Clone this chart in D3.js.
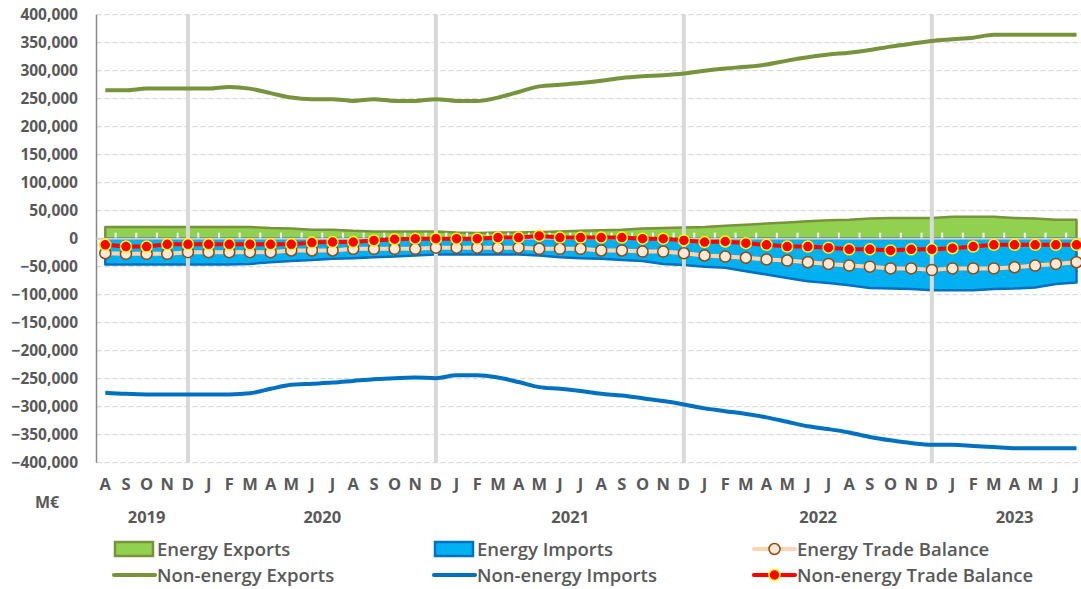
<!DOCTYPE html>
<html><head><meta charset="utf-8">
<script src="https://cdn.jsdelivr.net/npm/d3@7"></script>
<style>
body{margin:0;background:#fff;}
svg{display:block;font-family:"Open Sans",sans-serif;}
</style></head>
<body><svg id="c" width="1081" height="589"></svg>
<script>
const months = ["A","S","O","N","D",
 "J","F","M","A","M","J","J","A","S","O","N","D",
 "J","F","M","A","M","J","J","A","S","O","N","D",
 "J","F","M","A","M","J","J","A","S","O","N","D",
 "J","F","M","A","M","J","J"];
const years = [{label:"2019",from:0,to:4},{label:"2020",from:5,to:16},{label:"2021",from:17,to:28},{label:"2022",from:29,to:40},{label:"2023",from:41,to:47}];
const yTicks = [400000,350000,300000,250000,200000,150000,100000,50000,0,-50000,-100000,-150000,-200000,-250000,-300000,-350000,-400000];

// values in thousands of M€
const energyExports = [21,21,21,21,21,21,21,21,19,18,16,16,14,13,13,13,13,11,10,11,11,12,13,14,15,16,18,19,20,21,23,25,27,29,31,33,34,36,37,37,37,39,39,39,37,36,34,34];
const energyImports = [-46,-46,-46,-46,-46,-46,-46,-45,-42,-40,-38,-36,-35,-33,-32,-30,-28,-28,-28,-28,-28,-30,-33,-35,-36,-38,-40,-45,-47,-50,-52,-58,-64,-70,-76,-79,-83,-88,-89,-90,-92,-92,-92,-90,-89,-87,-81,-78];
const energyBalance = [-26,-27,-27,-27,-24,-24,-24,-24,-24,-21,-21,-21,-18,-18,-18,-18,-16,-16,-16,-16,-16,-18,-18,-18,-21,-21,-23,-23,-26,-30,-32,-34,-37,-39,-42,-45,-48,-50,-53,-53,-56,-53,-53,-53,-51,-48,-45,-42];
const nonEnergyExports = [265,265,268,268,268,268,271,268,260,252,249,249,246,249,246,246,249,246,246,252,262,272,275,278,282,287,290,292,295,300,304,307,311,318,324,329,332,337,343,348,353,356,359,364,364,364,364,364];
const nonEnergyImports = [-275,-277,-278,-278,-278,-278,-278,-276,-268,-261,-259,-257,-254,-251,-249,-248,-249,-244,-244,-248,-256,-265,-268,-272,-277,-280,-285,-290,-296,-303,-308,-313,-319,-327,-335,-340,-346,-354,-360,-365,-368,-368,-370,-372,-374,-374,-374,-374];
const nonEnergyBalance = [-11,-14,-14,-10,-10,-10,-10,-10,-10,-10,-7,-6,-6,-3,-1,0,0,0,0,2,2,5,2,2,2,2,0,0,-3,-6,-5,-8,-11,-14,-14,-16,-19,-19,-21,-19,-19,-17,-14,-11,-11,-11,-11,-11];

const svg = d3.select("#c");
const idx = d3.range(months.length);
const x = d3.scalePoint().domain(idx).range([105.3, 1076.5]);
const step = x.step();
const y = d3.scaleLinear().domain([-400000, 400000]).range([462.7, 14.7]);
const plotL = 96.5, plotR = 1081;
const txt = "#595959";

// horizontal gridlines
svg.append("g").selectAll("line").data(yTicks.filter(d=>d!==0)).join("line")
  .attr("x1", plotL).attr("x2", plotR).attr("y1", d=>y(d)).attr("y2", d=>y(d))
  .attr("stroke", "#d9d9d9").attr("stroke-width", 1.3).attr("stroke-dasharray", "5,3");

// y axis labels
const yAxis = d3.axisLeft(y).tickValues(yTicks).tickFormat(d3.format(",")).tickSize(0).tickPadding(0);
const ya = svg.append("g").attr("transform", `translate(78,0)`).call(yAxis);
ya.select(".domain").remove();
ya.selectAll("text").attr("fill", txt).attr("font-size", "15.5px").attr("font-weight", "bold").attr("font-family", '"Open Sans",sans-serif');

// areas
const k = v => v*1000;
svg.append("path").datum(idx)
  .attr("d", d3.area().x(i=>x(i)).y0(y(0)).y1(i=>y(k(energyExports[i]))))
  .attr("fill", "#92d050").attr("stroke", "#77933c").attr("stroke-width", 2.5).attr("stroke-linejoin","round");
svg.append("path").datum(idx)
  .attr("d", d3.area().x(i=>x(i)).y0(y(0)).y1(i=>y(k(energyImports[i]))))
  .attr("fill", "#00b0f0").attr("stroke", "#0070c0").attr("stroke-width", 2.5).attr("stroke-linejoin","round");

// y axis line
svg.append("line").attr("x1", plotL).attr("x2", plotL).attr("y1", y(400000)).attr("y2", y(-400000))
  .attr("stroke", "#868686").attr("stroke-width", 1.5);

// zero axis line with white ticks
svg.append("line").attr("x1", plotL).attr("x2", plotR).attr("y1", y(0)).attr("y2", y(0))
  .attr("stroke", "#d0d0d0").attr("stroke-width", 2);
svg.append("g").selectAll("line").data(idx.slice(0, -1)).join("line")
  .attr("x1", i=>x(i)+step/2).attr("x2", i=>x(i)+step/2)
  .attr("y1", y(0)-1).attr("y2", y(0)-6).attr("stroke", "#fff").attr("stroke-width", 2);

// year-boundary vertical lines (at December)
svg.append("g").selectAll("line").data(idx.filter(i=>months[i]==="D")).join("line")
  .attr("x1", i=>x(i)).attr("x2", i=>x(i)).attr("y1", y(400000)).attr("y2", y(-400000))
  .attr("stroke", "#d9d9d9").attr("stroke-width", 4);

// lines
const line = arr => d3.line().x(i=>x(i)).y(i=>y(k(arr[i]))).curve(d3.curveMonotoneX)(idx);
svg.append("path").attr("d", line(nonEnergyExports)).attr("fill","none").attr("stroke","#77933c").attr("stroke-width",4).attr("stroke-linejoin","round");
svg.append("path").attr("d", line(nonEnergyImports)).attr("fill","none").attr("stroke","#0070c0").attr("stroke-width",4).attr("stroke-linejoin","round");
const lineS = arr => d3.line().x(i=>x(i)).y(i=>y(k(arr[i])))(idx);
svg.append("path").attr("d", lineS(energyBalance)).attr("fill","none").attr("stroke","#fcd5b5").attr("stroke-width",4).attr("stroke-linejoin","round");
svg.append("g").selectAll("circle").data(idx).join("circle")
  .attr("cx", i=>x(i)).attr("cy", i=>y(k(energyBalance[i]))).attr("r", 5.5)
  .attr("fill", "#fde9d9").attr("stroke", "#984807").attr("stroke-width", 1.5);
svg.append("path").attr("d", lineS(nonEnergyBalance)).attr("fill","none").attr("stroke","#ff0000").attr("stroke-width",4).attr("stroke-linejoin","round");
svg.append("g").selectAll("circle").data(idx).join("circle")
  .attr("cx", i=>x(i)).attr("cy", i=>y(k(nonEnergyBalance[i]))).attr("r", 5.5)
  .attr("fill", "#ff0000").attr("stroke", "#ffff00").attr("stroke-width", 1.5);

// month labels
svg.append("g").selectAll("text").data(idx).join("text")
  .attr("x", i=>x(i)).attr("y", 490).attr("text-anchor","middle")
  .attr("fill", txt).attr("font-size","16.5px").attr("font-weight","bold").text(i=>months[i]);
// year labels
svg.append("g").selectAll("text").data(years).join("text")
  .attr("x", d=>(x(d.from)+x(d.to))/2).attr("y", 523).attr("text-anchor","middle")
  .attr("fill", txt).attr("font-size","16.5px").attr("font-weight","bold").text(d=>d.label);
svg.append("text").attr("x", 47).attr("y", 508).attr("text-anchor","middle")
  .attr("fill", txt).attr("font-size","16px").attr("font-weight","bold").text("M€");

// legend
const legend = [
  {name:"Energy Exports", type:"area", fill:"#92d050", stroke:"#77933c", col:0, row:0},
  {name:"Energy Imports", type:"area", fill:"#00b0f0", stroke:"#0070c0", col:1, row:0},
  {name:"Energy Trade Balance", type:"marker", line:"#fcd5b5", fill:"#fde9d9", stroke:"#984807", col:2, row:0},
  {name:"Non-energy Exports", type:"line", line:"#77933c", col:0, row:1},
  {name:"Non-energy Imports", type:"line", line:"#0070c0", col:1, row:1},
  {name:"Non-energy Trade Balance", type:"marker", line:"#ff0000", fill:"#ff0000", stroke:"#ffff00", col:2, row:1}
];
const colX = [114, 434, 754], rowY = [549, 575];
const lg = svg.append("g").selectAll("g").data(legend).join("g")
  .attr("transform", d=>`translate(${colX[d.col]},${rowY[d.row]})`);
lg.filter(d=>d.type==="area").append("rect").attr("x",1).attr("y",-7).attr("width",38).attr("height",14)
  .attr("fill", d=>d.fill).attr("stroke", d=>d.stroke).attr("stroke-width",2.5);
lg.filter(d=>d.type!=="area").append("line").attr("x1",0).attr("x2",41).attr("y1",0).attr("y2",0)
  .attr("stroke", d=>d.line).attr("stroke-width",4).attr("stroke-linecap","round");
lg.filter(d=>d.type==="marker").append("circle").attr("cx",20.5).attr("cy",0).attr("r",5.5)
  .attr("fill", d=>d.fill).attr("stroke", d=>d.stroke).attr("stroke-width",1.5);
lg.append("text").attr("x",43).attr("y",6.5).attr("fill",txt).attr("font-size","18.5px").attr("font-weight","600").text(d=>d.name);
</script></body></html>
